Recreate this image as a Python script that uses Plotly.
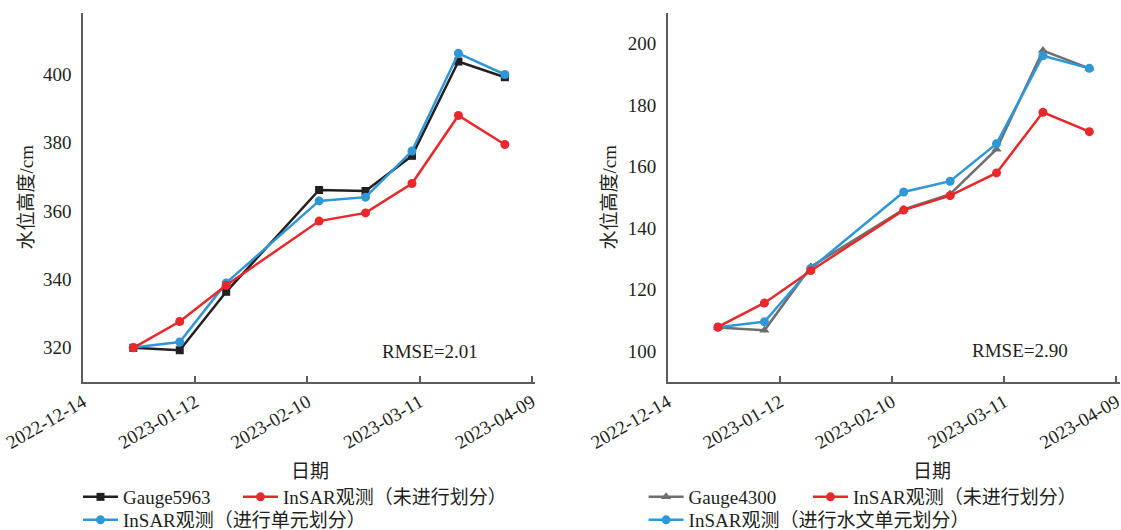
import plotly.graph_objects as go

# Acquisition dates (12-day repeat)
dates = ["2022-12-27", "2023-01-08", "2023-01-20", "2023-02-13",
         "2023-02-25", "2023-03-09", "2023-03-21", "2023-04-02"]
tick_dates = ["2022-12-14", "2023-01-12", "2023-02-10", "2023-03-11", "2023-04-09"]

# Station 5963 water level (cm)
gauge5963 = [320.0, 319.3, 336.4, 366.2, 365.9, 376.2, 403.8, 399.2]
insar_raw_5963 = [320.0, 327.7, 338.3, 357.1, 359.5, 368.1, 388.0, 379.5]
insar_unit_5963 = [320.1, 321.7, 339.0, 363.0, 364.1, 377.6, 406.2, 400.0]
rmse_5963 = "2.01"

# Station 4300 water level (cm)
gauge4300 = [107.7, 106.8, 127.5, 146.1, 151.1, 165.7, 197.8, 192.0]
insar_raw_4300 = [107.9, 115.7, 126.2, 145.9, 150.6, 158.0, 177.7, 171.4]
insar_unit_4300 = [107.8, 109.6, 126.9, 151.8, 155.3, 167.5, 196.1, 192.0]
rmse_4300 = "2.90"

y_ticks_left = [320, 340, 360, 380, 400]
y_ticks_right = [100, 120, 140, 160, 180, 200]

W, H = 1121, 530
FONT = "Liberation Serif, Noto Sans CJK SC, serif"
TXT = "#231f20"
AXC = "#5c5c5c"
BLACK = "#231f20"
RED = "#e8282b"
BLUE = "#3097d6"
GRAY = "#6f6f6f"


def px_x(p):
    return p / W


def px_y(p):
    return 1 - p / H


fig = go.Figure()


def add_series(x, y, name, color, symbol, size, xa, ya, legend):
    fig.add_trace(go.Scatter(
        x=x, y=y, name=name, mode="lines+markers",
        line=dict(color=color, width=2.5),
        marker=dict(color=color, symbol=symbol, size=size),
        xaxis=xa, yaxis=ya, legend=legend, showlegend=True,
    ))


# left panel
add_series(dates, gauge5963, "Gauge5963", BLACK, "square", 8, "x", "y", "legend")
add_series(dates, insar_unit_5963, "InSAR观测（进行单元划分）", BLUE, "circle", 9, "x", "y", "legend3")
add_series(dates, insar_raw_5963, "InSAR观测（未进行划分）", RED, "circle", 9, "x", "y", "legend2")

# right panel
add_series(dates, gauge4300, "Gauge4300", GRAY, "triangle-up", 9, "x2", "y2", "legend4")
add_series(dates, insar_unit_4300, "InSAR观测（进行水文单元划分）", BLUE, "circle", 9, "x2", "y2", "legend6")
add_series(dates, insar_raw_4300, "InSAR观测（未进行划分）", RED, "circle", 9, "x2", "y2", "legend5")

xrange = ["2022-12-14", "2023-04-09 19:00"]
common_x = dict(
    type="date", range=xrange, tickvals=tick_dates, ticktext=tick_dates,
    tickangle=-30, ticks="inside", ticklen=6, tickwidth=1.5, tickcolor=AXC,
    showline=True, linecolor=AXC, linewidth=1.5, showgrid=False, zeroline=False,
    automargin=False, ticklabeloverflow="allow",
    tickfont=dict(family=FONT, size=19, color=TXT),
)
common_y = dict(
    ticks="", showline=True, linecolor=AXC, linewidth=1.5, showgrid=False,
    zeroline=False, ticklabelstandoff=6, automargin=False,
    tickfont=dict(family=FONT, size=19, color=TXT),
)
y_dom = [px_y(382), px_y(13)]

fig.update_layout(
    width=W, height=H, showlegend=True,
    margin=dict(l=0, r=0, t=0, b=0, autoexpand=False),
    paper_bgcolor="white", plot_bgcolor="white",
    font=dict(family=FONT, size=19, color=TXT),
    xaxis=dict(domain=[px_x(83), px_x(535)], anchor="y", **common_x),
    yaxis=dict(domain=y_dom, anchor="x", range=[310, 418], tickvals=y_ticks_left, **common_y),
    xaxis2=dict(domain=[px_x(667.7), px_x(1119.5)], anchor="y2", **common_x),
    yaxis2=dict(domain=y_dom, anchor="x2", range=[90, 210], tickvals=y_ticks_right, **common_y),
)

# one legend box per entry: left edge of the line sample, row centre (px)
leg_common = dict(orientation="h", xanchor="left", yanchor="middle",
                  bgcolor="rgba(0,0,0,0)", font=dict(family=FONT, size=19, color=TXT),
                  itemwidth=35)
legend_slots = {
    "legend": (83, 497),
    "legend2": (243, 497),
    "legend3": (83, 520),
    "legend4": (648.6, 497),
    "legend5": (813, 497),
    "legend6": (648.6, 520),
}
fig.update_layout({k: dict(x=px_x(x0 - 5), y=px_y(yc), **leg_common)
                   for k, (x0, yc) in legend_slots.items()})

annots = [
    dict(text="水位高度/cm", x=px_x(26), y=px_y(197.5), textangle=-90),
    dict(text="水位高度/cm", x=px_x(609), y=px_y(197.5), textangle=-90),
    dict(text="日期", x=px_x(310), y=px_y(471)),
    dict(text="日期", x=px_x(932), y=px_y(471)),
    dict(text="RMSE=" + rmse_5963, x=px_x(430), y=px_y(351.5)),
    dict(text="RMSE=" + rmse_4300, x=px_x(1019.5), y=px_y(350.5)),
]
for a in annots:
    fig.add_annotation(xref="paper", yref="paper", showarrow=False,
                       xanchor="center", yanchor="middle",
                       font=dict(family=FONT, size=19, color=TXT), **a)

fig.write_html("out.html")
